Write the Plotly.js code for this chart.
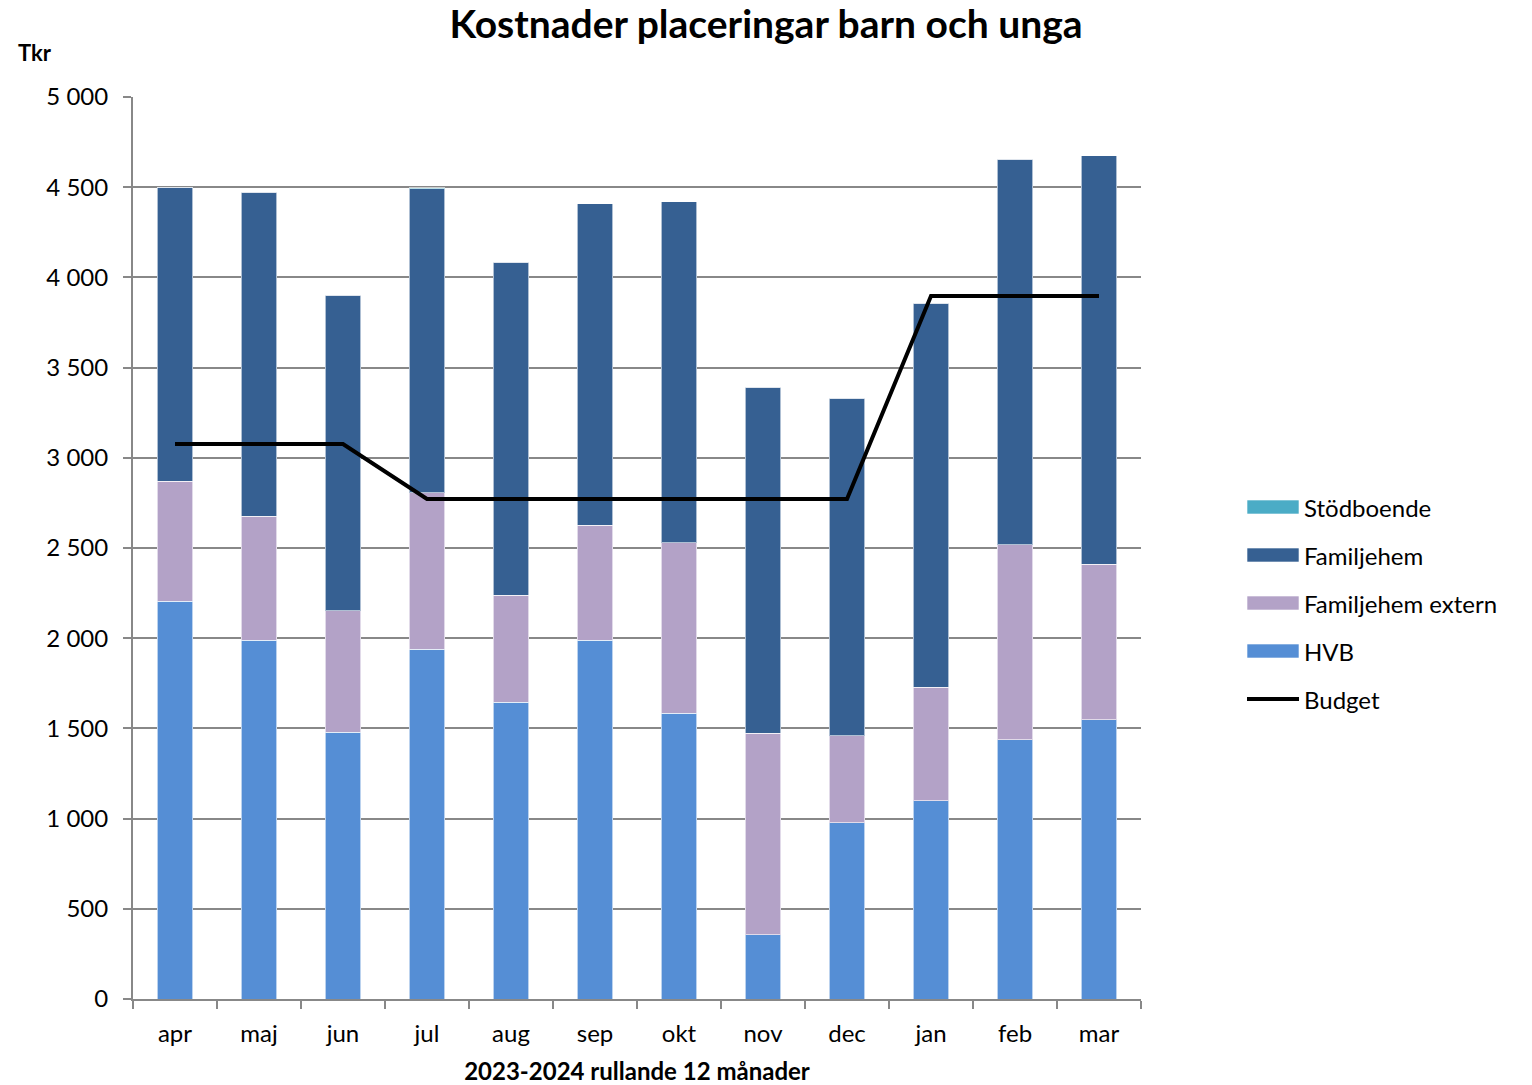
<!DOCTYPE html>
<html>
<head>
<meta charset="utf-8">
<script src="https://cdn.plot.ly/plotly-3.0.1.min.js"></script>
<style>html,body{margin:0;padding:0;background:#fff;}#chart{width:1532px;height:1085px;}</style>
</head>
<body>
<div id="chart"></div>
<script>
const months = ["apr","maj","jun","jul","aug","sep","okt","nov","dec","jan","feb","mar"];
const hvb = [2206,1990,1480,1940,1646,1990,1585,355,976,1098,1436,1547];
const familjehemExtern = [665,687,671,865,593,637,943,1119,482,631,1081,864];
const familjehem = [1630,1796,1751,1686,1846,1780,1890,1918,1873,2129,2139,2262];
const stodboende = [0,0,0,5,0,0,0,0,0,0,0,0];
const budget = [3076,3076,3076,2772,2772,2772,2772,2772,2772,3897,3897,3897];
const legendNames = ["Stödboende","Familjehem","Familjehem extern","HVB","Budget"];

const font = "Lato, 'Open Sans', sans-serif";
const colors = {"HVB":"#558ed5","Familjehem extern":"#b3a2c7","Familjehem":"#366092","Stödboende":"#4bacc6","Budget":"#000"};
const barLine = {color:"rgba(255,255,255,0.6)", width:1};
const traces = [
  {type:"bar", name:"HVB", x:months, y:hvb, marker:{color:colors["HVB"], line:barLine}},
  {type:"bar", name:"Familjehem extern", x:months, y:familjehemExtern, marker:{color:colors["Familjehem extern"], line:barLine}},
  {type:"bar", name:"Familjehem", x:months, y:familjehem, marker:{color:colors["Familjehem"], line:barLine}},
  {type:"bar", name:"Stödboende", x:months, y:stodboende, marker:{color:colors["Stödboende"], line:barLine}},
  {type:"scatter", mode:"lines", name:"Budget", x:months, y:budget, line:{color:"#000", width:4}}
];

// custom legend (wide swatches like the original)
const L = 133, T = 97, W = 1008, H = 902;
const px = v => (v - L) / W;
const py = v => (T + H - v) / H;
const shapes = [], annotations = [];
legendNames.forEach((n, i) => {
  const cy = 507 + i * 48;
  if (n === "Budget") {
    shapes.push({type:"line", xref:"paper", yref:"paper", x0:px(1247), x1:px(1299), y0:py(cy), y1:py(cy), line:{color:"#000", width:4}});
  } else {
    shapes.push({type:"rect", xref:"paper", yref:"paper", x0:px(1247), x1:px(1299), y0:py(cy-7), y1:py(cy+7), fillcolor:colors[n], line:{color:"rgba(255,255,255,0.6)", width:1}});
  }
  annotations.push({text:n, xref:"paper", yref:"paper", x:px(1302), y:py(cy), xanchor:"left", yanchor:"middle", showarrow:false, font:{size:24}});
});
annotations.push({text:"<b>Tkr</b>", xref:"paper", yref:"paper", x:px(16), y:py(52), xanchor:"left", yanchor:"middle", showarrow:false, font:{size:22}});

const layout = {
  width:1532, height:1085,
  margin:{l:133, r:391, t:97, b:86},
  paper_bgcolor:"#fff", plot_bgcolor:"#fff",
  separators:", ",
  barmode:"stack", bargap:0.58,
  showlegend:false,
  font:{family:font, size:22, color:"#000"},
  title:{text:"<b>Kostnader placeringar barn och unga</b>", x:0.5, xanchor:"center", xref:"container", y:0.978, yanchor:"middle", font:{size:39, family:font}},
  xaxis:{type:"category", showline:true, linecolor:"#888", linewidth:2, ticks:"outside", tickson:"boundaries", ticklen:8, tickcolor:"#888", tickwidth:2,
    tickfont:{size:24}, ticklabelstandoff:12, title:{text:"<b>2023-2024 rullande 12 månader</b>", font:{size:24}, standoff:20}},
  yaxis:{range:[0,5000], dtick:500, tickformat:",d", showline:true, linecolor:"#888", linewidth:2, ticks:"outside", ticklen:8, tickcolor:"#888", tickwidth:2,
    gridcolor:"#888", gridwidth:1.5, tickfont:{size:24}, ticklabelstandoff:10, zeroline:false},
  shapes:shapes,
  annotations:annotations
};
Plotly.newPlot("chart", traces, layout, {displayModeBar:false});
</script>
</body>
</html>
